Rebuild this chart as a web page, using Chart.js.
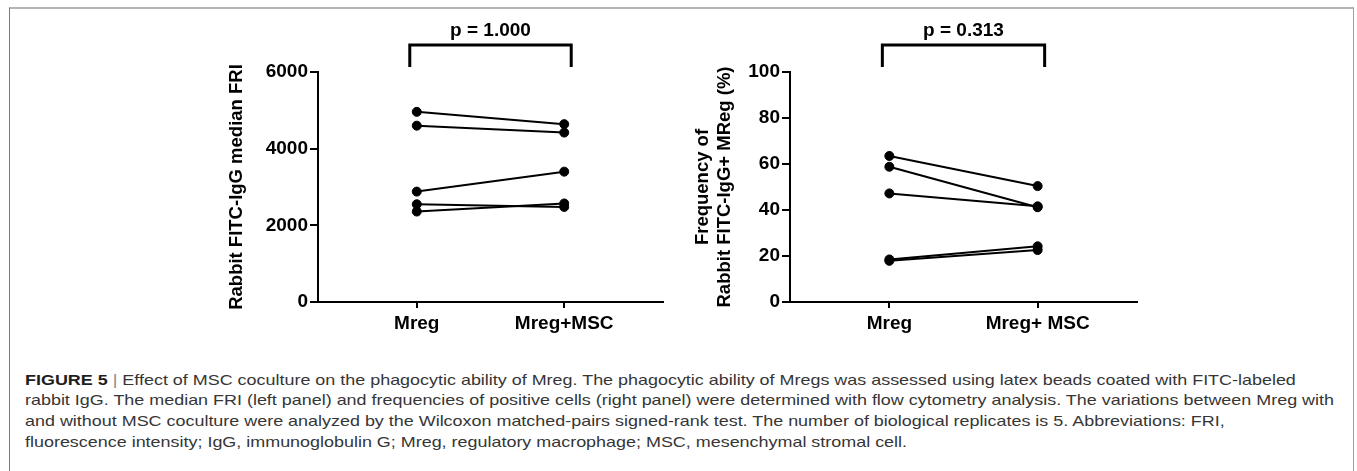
<!DOCTYPE html>
<html>
<head>
<meta charset="utf-8">
<script src="https://cdn.jsdelivr.net/npm/chart.js@4.4.1/dist/chart.umd.min.js"></script>
<style>
  body { margin: 0; background: #fff; width: 1357px; height: 471px; overflow: hidden; position: relative;
         font-family: "Liberation Sans", Arial, sans-serif; }
  .frame { position: absolute; left: 9px; top: 7px; width: 1343px; height: 520px;
           border-top: 2px solid #b4b4b4; border-left: 1px solid #7a7a7a; border-right: 1px solid #a0a0a0; }
  canvas { position: absolute; top: 0; }
  #friChart { left: 220px; }
  #freqChart { left: 680px; }
  .caption { position: absolute; left: 25px; top: 369.5px; font-size: 15px; line-height: 20.7px; color: #363636; }
  .caption div { white-space: nowrap; width: max-content; transform-origin: left center; }
  .caption b { color: #1e1e1e; }
  .caption .sep { color: #8a8a8a; }
</style>
</head>
<body>
<div class="frame"></div>
<canvas id="friChart" width="460" height="345"></canvas>
<canvas id="freqChart" width="480" height="345"></canvas>
<div class="caption" id="caption">
  <div><b>FIGURE 5</b> <span class="sep">|</span> Effect of MSC coculture on the phagocytic ability of Mreg. The phagocytic ability of Mregs was assessed using latex beads coated with FITC-labeled</div>
  <div id="capLine2">rabbit IgG. The median FRI (left panel) and frequencies of positive cells (right panel) were determined with flow cytometry analysis. The variations between Mreg with</div>
  <div>and without MSC coculture were analyzed by the Wilcoxon matched-pairs signed-rank test. The number of biological replicates is 5. Abbreviations: FRI,</div>
  <div>fluorescence intensity; IgG, immunoglobulin G; Mreg, regulatory macrophage; MSC, mesenchymal stromal cell.</div>
</div>
<script>
// categories on the x axis
const friCategories = ['Mreg', 'Mreg+MSC'];
const freqCategories = ['Mreg', 'Mreg+ MSC'];

// left panel: rabbit FITC-IgG median FRI, one pair per replicate
const friMreg = [4960, 4600, 2880, 2550, 2360];
const friMregMsc = [4640, 4420, 3400, 2480, 2570];
const friTicks = [0, 2000, 4000, 6000];

// right panel: frequency of FITC-IgG+ Mreg (%)
const freqMreg = [63.5, 58.8, 47.2, 18.5, 17.9];
const freqMregMsc = [50.4, 41.2, 41.6, 24.2, 22.6];
const freqTicks = [0, 20, 40, 60, 80, 100];

const fontFamily = '"Liberation Sans", Arial, sans-serif';

// significance bracket with p value above the two groups
const bracketPlugin = {
  id: 'bracket',
  afterDraw(chart, args, opts) {
    const ctx = chart.ctx;
    const area = chart.chartArea;
    const x = chart.scales.x;
    const x0 = x.getPixelForValue(0) - 7;
    const x1 = x.getPixelForValue(1) + 7;
    const top = area.top - 27;
    const bottom = area.top - 5;
    ctx.save();
    ctx.strokeStyle = '#000';
    ctx.lineWidth = 3;
    ctx.beginPath();
    ctx.moveTo(x0, bottom);
    ctx.lineTo(x0, top);
    ctx.lineTo(x1, top);
    ctx.lineTo(x1, bottom);
    ctx.stroke();
    ctx.fillStyle = '#000';
    ctx.font = 'bold 19px ' + fontFamily;
    ctx.textAlign = 'center';
    ctx.textBaseline = 'alphabetic';
    ctx.fillText(opts.text, (x0 + x1) / 2, area.top - 36);
    ctx.restore();
  }
};

function makePanel(id, cats, before, after, ticks, yTitle, pText, axisWidth, titlePad, padRight) {
  const datasets = before.map((v, i) => ({
    data: [{ x: 0, y: v }, { x: 1, y: after[i] }],
    borderColor: '#000',
    backgroundColor: '#000',
    borderWidth: 2,
    pointRadius: 4.5,
    pointBorderWidth: 1,
    pointBackgroundColor: '#000',
    pointBorderColor: '#000'
  }));

  return new Chart(document.getElementById(id), {
    type: 'line',
    data: { datasets: datasets },
    plugins: [bracketPlugin],
    options: {
      responsive: false,
      animation: false,
      layout: { autoPadding: false, padding: { top: 72, right: padRight, bottom: 0, left: 0 } },
      plugins: {
        legend: { display: false },
        tooltip: { enabled: false },
        bracket: { text: pText }
      },
      scales: {
        x: {
          type: 'linear',
          min: -0.67,
          max: 1.67,
          afterBuildTicks: s => { s.ticks = cats.map((c, i) => ({ value: i })); },
          afterFit: s => { s.height = 43; },
          ticks: {
            callback: v => cats[v],
            color: '#000',
            padding: 4,
            maxRotation: 0,
            font: { family: fontFamily, size: 19, weight: 'bold' }
          },
          grid: { drawOnChartArea: false, drawTicks: true, tickLength: 6, color: '#000', lineWidth: 2 },
          border: { display: true, color: '#000', width: 2 }
        },
        y: {
          min: ticks[0],
          max: ticks[ticks.length - 1],
          afterBuildTicks: s => { s.ticks = ticks.map(v => ({ value: v })); },
          afterFit: s => { s.width = axisWidth; },
          ticks: {
            callback: v => String(v),
            color: '#000',
            padding: 2,
            font: { family: fontFamily, size: 19, weight: 'bold' }
          },
          grid: { drawOnChartArea: false, drawTicks: true, tickLength: 8, color: '#000', lineWidth: 2 },
          border: { display: true, color: '#000', width: 2 },
          title: {
            display: true,
            text: yTitle,
            color: '#000',
            padding: { top: titlePad, bottom: 0 },
            font: { family: fontFamily, size: 18.5, weight: 'bold', lineHeight: 1.2 }
          }
        }
      }
    }
  });
}

makePanel('friChart', friCategories, friMreg, friMregMsc, friTicks,
  'Rabbit FITC-IgG median FRI', 'p = 1.000', 98, 5.9, 17);
makePanel('freqChart', freqCategories, freqMreg, freqMregMsc, freqTicks,
  ['Frequency of', 'Rabbit FITC-IgG+ MReg (%)'], 'p = 0.313', 110, 11.9, 23);

// stretch caption lines so line 2 ends where it does in the figure
const capLines = document.querySelectorAll('#caption div');
const line2 = document.getElementById('capLine2');
const k = 1309 / line2.getBoundingClientRect().width;
capLines.forEach(d => { d.style.transform = 'scaleX(' + k + ')'; });
</script>
</body>
</html>
